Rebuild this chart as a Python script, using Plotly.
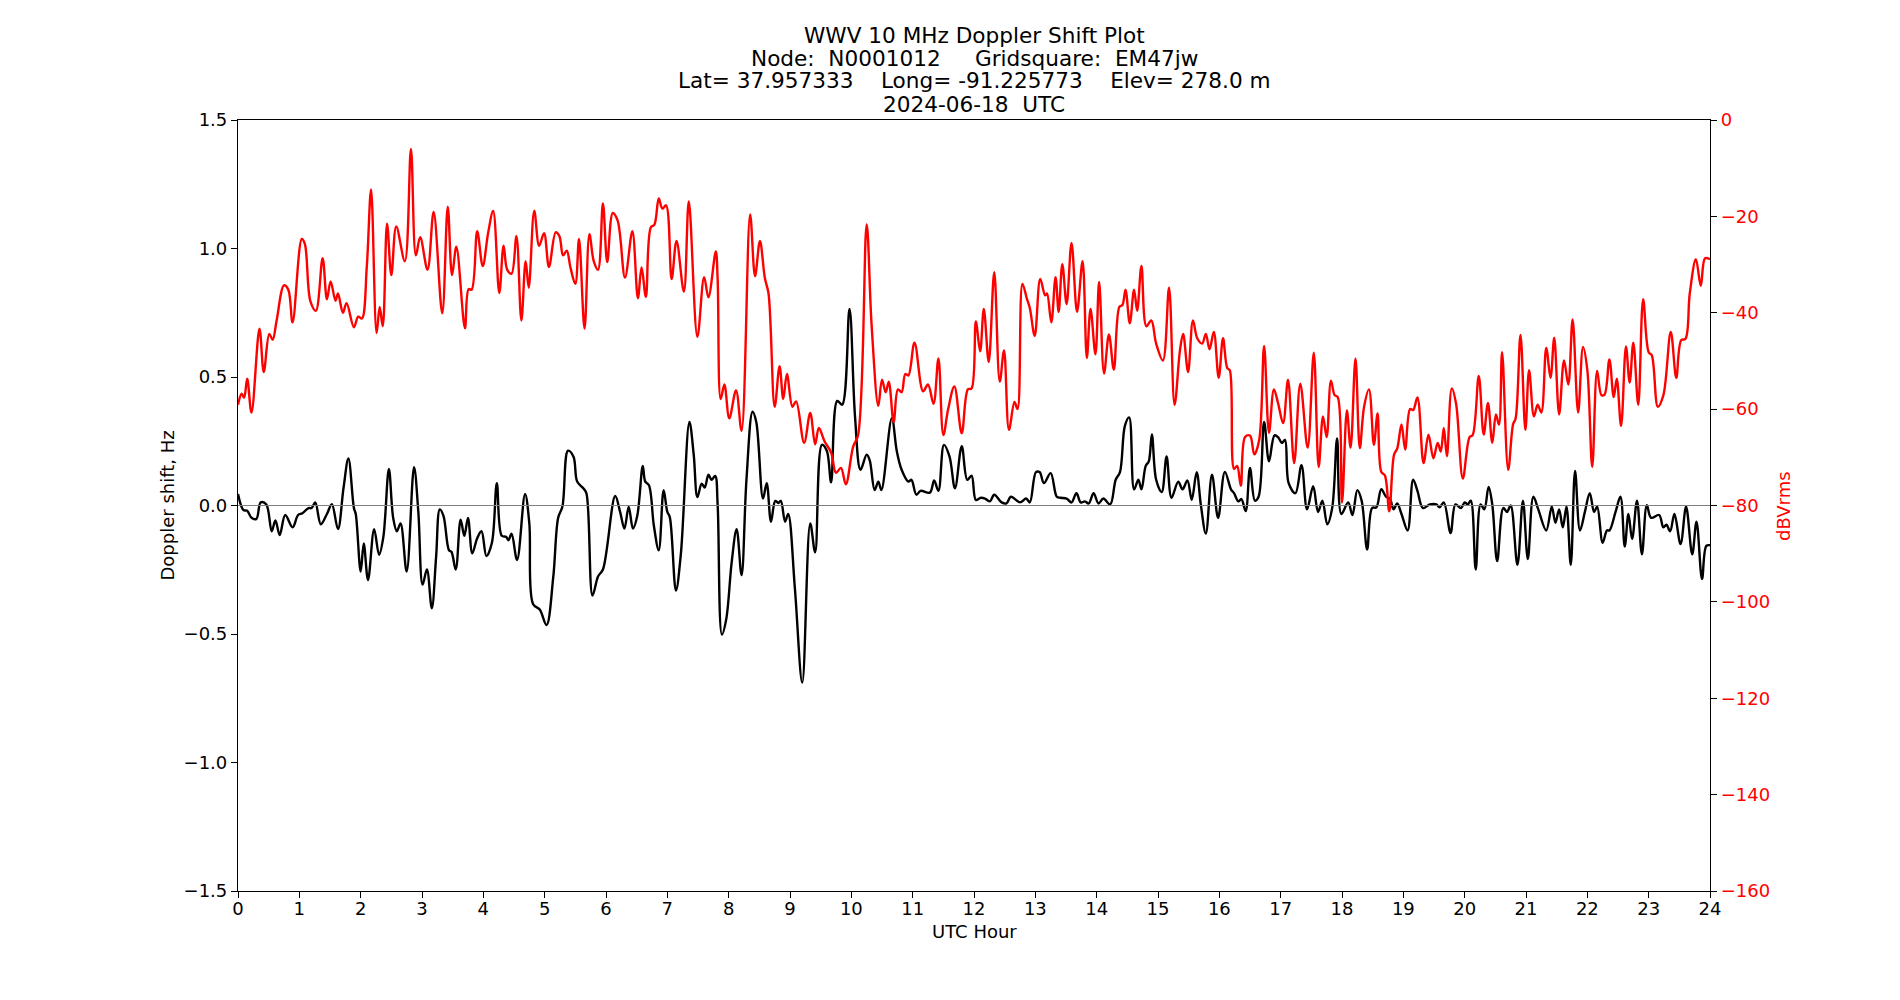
import plotly.graph_objects as go

# ---------------- data ----------------
power_hours = [0.0, 0.06, 0.10, 0.15, 0.22, 0.35, 0.42, 0.51, 0.565, 0.63, 0.75, 0.82, 0.89, 1.04, 1.09, 1.18, 1.27, 1.38, 1.45, 1.51,
               1.59, 1.63, 1.71, 1.77, 1.89, 1.96, 2.02, 2.10, 2.17, 2.26, 2.31, 2.36, 2.43, 2.50, 2.58, 2.72, 2.82, 2.90, 2.97, 3.09,
               3.19, 3.33, 3.42, 3.49, 3.56, 3.70, 3.76, 3.81, 3.90, 3.99, 4.08, 4.16, 4.26, 4.33, 4.39, 4.46, 4.54, 4.62, 4.69, 4.74,
               4.83, 4.91, 4.99, 5.07, 5.18, 5.24, 5.30, 5.36, 5.42, 5.50, 5.56, 5.65, 5.73, 5.80, 5.87, 5.95, 6.02, 6.11, 6.19, 6.31,
               6.43, 6.52, 6.58, 6.65, 6.73, 6.79, 6.86, 6.92, 6.98, 7.07, 7.15, 7.27, 7.35, 7.49, 7.60, 7.67, 7.79, 7.82, 7.87, 7.93,
               8.01, 8.12, 8.21, 8.35, 8.43, 8.51, 8.59, 8.65, 8.75, 8.83, 8.89, 8.95, 9.04, 9.10, 9.23, 9.33, 9.41, 9.47, 9.56, 9.67,
               9.75, 9.83, 9.91, 10.03, 10.11, 10.25, 10.33, 10.44, 10.50, 10.56, 10.61, 10.69, 10.76, 10.82, 10.88, 10.93, 11.03, 11.17, 11.25, 11.34,
               11.42, 11.50, 11.58, 11.68, 11.80, 11.90, 11.96, 12.03, 12.10, 12.16, 12.24, 12.33, 12.42, 12.49, 12.57, 12.66, 12.71, 12.79, 12.86, 12.91,
               12.99, 13.08, 13.16, 13.19, 13.26, 13.33, 13.38, 13.44, 13.51, 13.59, 13.68, 13.77, 13.84, 13.90, 13.98, 14.04, 14.12, 14.20, 14.28, 14.37,
               14.42, 14.47, 14.54, 14.61, 14.66, 14.73, 14.81, 14.89, 14.97, 15.08, 15.18, 15.27, 15.36, 15.41, 15.49, 15.57, 15.64, 15.72, 15.78, 15.84,
               15.91, 15.99, 16.06, 16.13, 16.17, 16.24, 16.29, 16.35, 16.42, 16.50, 16.57, 16.65, 16.73, 16.81, 16.89, 16.96, 17.04, 17.12, 17.22, 17.32,
               17.44, 17.54, 17.62, 17.69, 17.75, 17.82, 17.88, 17.93, 18.00, 18.08, 18.14, 18.22, 18.29, 18.36, 18.44, 18.52, 18.58, 18.64, 18.70, 18.77,
               18.85, 18.90, 18.97, 19.03, 19.11, 19.16, 19.23, 19.33, 19.41, 19.49, 19.56, 19.61, 19.66, 19.71, 19.79, 19.86, 19.97, 20.08, 20.13, 20.23,
               20.31, 20.38, 20.45, 20.51, 20.56, 20.61, 20.71, 20.79, 20.83, 20.91, 20.99, 21.05, 21.13, 21.19, 21.25, 21.33, 21.40, 21.46, 21.54, 21.62,
               21.69, 21.76, 21.85, 21.93, 22.00, 22.08, 22.16, 22.23, 22.28, 22.36, 22.43, 22.48, 22.55, 22.63, 22.69, 22.75, 22.83, 22.91, 23.00, 23.05,
               23.15, 23.24, 23.36, 23.45, 23.53, 23.60, 23.67, 23.77, 23.85, 23.92, 24.00]
power_dbv = [-59.1, -56.8, -57.6, -53.7, -60.7, -43.3, -52.3, -44.4, -45.6, -41.6, -34.3, -35.2, -42.0, -24.7, -25.7, -37.6, -39.6, -28.7, -37.2, -33.5,
             -37.5, -36.0, -40.0, -38.0, -43.0, -40.8, -41.2, -30.4, -14.4, -44.2, -38.8, -42.8, -21.5, -32.2, -22.1, -29.3, -6.0, -28.1, -24.3, -31.1,
             -19.1, -40.1, -18.0, -32.2, -26.3, -43.2, -35.1, -35.2, -23.1, -30.3, -23.3, -18.9, -35.9, -26.1, -31.1, -31.9, -24.1, -41.6, -29.3, -34.8,
             -18.8, -26.1, -23.5, -30.5, -23.3, -24.1, -28.1, -27.1, -30.6, -34.0, -24.7, -43.3, -23.7, -29.3, -31.1, -17.3, -29.5, -19.3, -20.9, -32.7,
             -23.1, -37.0, -30.6, -36.7, -22.3, -21.7, -16.3, -18.4, -17.7, -33.0, -25.1, -35.6, -16.9, -45.0, -32.6, -36.8, -27.3, -33.0, -57.9, -54.9,
             -61.9, -56.1, -64.5, -19.6, -32.4, -25.1, -32.8, -36.0, -59.5, -51.1, -57.9, -52.7, -59.5, -58.4, -67.0, -60.8, -67.3, -63.9, -66.6, -69.0,
             -73.2, -72.2, -75.6, -67.8, -65.4, -21.7, -42.4, -59.3, -53.9, -56.5, -54.3, -62.7, -55.9, -56.5, -52.7, -53.0, -46.2, -56.3, -54.9, -58.9,
             -49.5, -65.4, -59.9, -55.3, -65.0, -55.9, -55.7, -41.8, -48.0, -39.2, -50.2, -31.6, -54.3, -47.8, -64.3, -58.5, -60.0, -34.0, -37.0, -39.0,
             -44.8, -33.0, -36.4, -36.0, -42.0, -32.6, -39.8, -29.9, -38.2, -25.5, -39.8, -29.3, -49.4, -39.2, -48.6, -33.6, -52.6, -44.5, -51.8, -38.8,
             -38.4, -35.2, -42.2, -35.2, -39.6, -30.3, -42.8, -41.6, -46.4, -49.9, -34.8, -59.1, -47.6, -44.4, -52.3, -41.6, -45.3, -46.4, -44.4, -47.6,
             -44.0, -53.5, -45.3, -51.5, -51.9, -72.4, -71.8, -75.9, -65.8, -65.5, -69.4, -66.4, -46.9, -64.9, -55.9, -58.9, -62.9, -53.9, -71.2, -54.7,
             -68.0, -48.3, -72.0, -61.5, -65.8, -54.1, -57.1, -57.5, -79.4, -60.3, -68.0, -49.5, -68.1, -59.5, -55.9, -67.4, -60.9, -73.0, -73.8, -81.2,
             -69.4, -68.2, -63.2, -68.4, -60.0, -60.2, -57.6, -71.2, -65.3, -70.2, -67.0, -68.8, -63.9, -69.8, -55.7, -58.9, -74.4, -65.8, -65.4, -53.1,
             -65.3, -58.7, -67.0, -61.1, -63.2, -48.2, -72.6, -63.1, -62.0, -44.6, -64.3, -51.9, -61.5, -59.1, -60.7, -47.3, -53.5, -45.2, -61.1, -49.9,
             -54.9, -41.4, -60.7, -47.1, -51.9, -72.0, -52.1, -57.1, -57.0, -49.7, -57.5, -53.7, -63.5, -47.0, -54.5, -46.2, -59.1, -37.2, -48.2, -48.8,
             -59.5, -57.1, -44.0, -53.5, -45.7, -45.4, -36.0, -28.9, -34.4, -28.7, -28.9]

doppler_hours = [0.0, 0.09, 0.15, 0.22, 0.30, 0.37, 0.46, 0.55, 0.61, 0.68, 0.77, 0.89, 0.98, 1.05, 1.15, 1.20, 1.26, 1.35, 1.45, 1.53,
                 1.63, 1.72, 1.80, 1.89, 1.92, 2.00, 2.05, 2.12, 2.22, 2.30, 2.37, 2.46, 2.53, 2.59, 2.65, 2.75, 2.87, 2.94, 3.01, 3.08,
                 3.16, 3.23, 3.29, 3.35, 3.44, 3.48, 3.55, 3.63, 3.69, 3.75, 3.82, 3.90, 3.97, 4.05, 4.14, 4.22, 4.30, 4.37, 4.41, 4.46,
                 4.55, 4.68, 4.75, 4.81, 4.92, 5.03, 5.14, 5.22, 5.29, 5.38, 5.47, 5.53, 5.63, 5.68, 5.78, 5.87, 5.95, 6.15, 6.23, 6.30,
                 6.37, 6.44, 6.51, 6.60, 6.64, 6.70, 6.78, 6.86, 6.94, 7.00, 7.04, 7.14, 7.22, 7.36, 7.43, 7.49, 7.56, 7.61, 7.67, 7.72,
                 7.78, 7.82, 7.89, 7.96, 8.05, 8.13, 8.21, 8.29, 8.39, 8.45, 8.56, 8.62, 8.69, 8.76, 8.81, 8.85, 8.92, 8.97, 9.08, 9.20,
                 9.33, 9.41, 9.52, 9.60, 9.67, 9.77, 9.85, 9.97, 10.06, 10.15, 10.25, 10.30, 10.38, 10.44, 10.49, 10.66, 10.74, 10.82, 10.93, 10.98,
                 11.06, 11.13, 11.28, 11.35, 11.42, 11.51, 11.60, 11.69, 11.80, 11.89, 11.96, 12.03, 12.11, 12.18, 12.26, 12.33, 12.45, 12.53, 12.60, 12.75,
                 12.85, 12.91, 13.01, 13.07, 13.14, 13.25, 13.35, 13.41, 13.51, 13.59, 13.67, 13.74, 13.81, 13.87, 13.95, 14.03, 14.11, 14.22, 14.31, 14.38,
                 14.46, 14.53, 14.61, 14.68, 14.73, 14.80, 14.85, 14.90, 14.97, 15.06, 15.14, 15.22, 15.33, 15.40, 15.48, 15.55, 15.63, 15.70, 15.78, 15.88,
                 15.98, 16.09, 16.19, 16.24, 16.31, 16.36, 16.43, 16.50, 16.58, 16.64, 16.73, 16.81, 16.90, 16.96, 17.02, 17.07, 17.13, 17.24, 17.34, 17.43,
                 17.53, 17.61, 17.68, 17.76, 17.84, 17.92, 17.99, 18.10, 18.17, 18.25, 18.32, 18.41, 18.49, 18.56, 18.64, 18.72, 18.78, 18.84, 18.90, 18.97,
                 19.07, 19.16, 19.23, 19.32, 19.43, 19.54, 19.59, 19.66, 19.77, 19.85, 19.94, 20.00, 20.05, 20.10, 20.18, 20.26, 20.32, 20.39, 20.45, 20.53,
                 20.63, 20.69, 20.75, 20.86, 20.95, 21.03, 21.12, 21.20, 21.33, 21.42, 21.48, 21.54, 21.60, 21.66, 21.73, 21.80, 21.88, 21.96, 22.04, 22.11,
                 22.16, 22.25, 22.32, 22.36, 22.46, 22.54, 22.61, 22.67, 22.73, 22.81, 22.89, 22.97, 23.04, 23.17, 23.24, 23.29, 23.35, 23.42, 23.52, 23.61,
                 23.71, 23.78, 23.87, 23.94, 24.00]
doppler_hz = [0.045, -0.018, -0.02, -0.048, -0.052, 0.012, 0.005, -0.10, -0.058, -0.115, -0.037, -0.085, -0.037, -0.03, -0.01, -0.01, 0.012, -0.073, -0.033, 0.005,
              -0.092, 0.067, 0.183, -0.01, -0.033, -0.257, -0.148, -0.29, -0.092, -0.192, -0.122, 0.142, -0.048, -0.10, -0.07, -0.257, 0.149, -0.025, -0.308, -0.249,
              -0.40, -0.20, -0.015, -0.04, -0.174, -0.18, -0.249, -0.055, -0.118, -0.048, -0.186, -0.127, -0.10, -0.197, -0.145, 0.087, -0.118, -0.122, -0.135, -0.11,
              -0.212, 0.045, -0.07, -0.383, -0.405, -0.465, -0.279, -0.048, -0.003, 0.213, 0.19, 0.093, 0.067, 0.048, -0.35, -0.276, -0.249, 0.037, -0.025, -0.09,
              -0.006, -0.09, -0.04, 0.154, 0.093, 0.079, -0.078, -0.174, 0.06, -0.025, -0.045, -0.331, -0.19, 0.325, 0.198, 0.033, 0.085, 0.07, 0.12, 0.10,
              0.115, 0.004, -0.502, -0.443, -0.219, -0.092, -0.271, 0.10, 0.365, 0.325, 0.027, 0.087, -0.063, 0.018, 0.01, 0.018, -0.063, -0.033, -0.324, -0.689,
              -0.07, -0.182, 0.236, 0.213, 0.09, 0.407, 0.392, 0.765, 0.347, 0.139, 0.198, 0.176, 0.06, 0.093, 0.06, 0.34, 0.213, 0.139, 0.093, 0.10,
              0.042, 0.057, 0.05, 0.097, 0.057, 0.236, 0.191, 0.067, 0.231, 0.10, 0.116, 0.022, 0.03, 0.027, 0.016, 0.042, 0.012, 0.008, 0.034, 0.012,
              0.027, 0.012, 0.13, 0.13, 0.087, 0.126, 0.034, 0.03, 0.027, 0.012, 0.048, 0.012, 0.016, 0.008, 0.048, 0.008, 0.027, 0.004, 0.10, 0.13,
              0.31, 0.343, 0.063, 0.10, 0.063, 0.154, 0.172, 0.276, 0.10, 0.052, 0.191, 0.03, 0.093, 0.063, 0.097, 0.022, 0.13, 0.0, -0.109, 0.12,
              -0.048, 0.131, 0.063, 0.048, 0.016, 0.025, -0.022, 0.146, 0.019, 0.034, 0.325, 0.172, 0.273, 0.265, 0.243, 0.255, 0.087, 0.048, 0.157, -0.015,
              0.075, -0.025, 0.019, -0.073, -0.01, 0.261, -0.033, 0.012, -0.037, 0.06, 0.019, -0.171, -0.01, -0.007, 0.063, 0.034, 0.027, -0.015, 0.008, -0.033,
              -0.097, 0.10, 0.057, -0.01, 0.004, 0.004, -0.007, 0.012, -0.107, 0.004, -0.01, 0.012, 0.004, 0.019, -0.249, 0.004, -0.015, 0.072, 0.004, -0.216,
              -0.01, -0.025, 0.0, -0.231, 0.019, -0.208, 0.034, -0.015, -0.097, -0.005, -0.067, -0.015, -0.085, -0.005, -0.231, 0.134, -0.097, -0.025, 0.048, -0.025,
              -0.005, -0.145, -0.097, -0.097, -0.025, 0.034, -0.16, -0.033, -0.13, 0.019, -0.19, 0.001, -0.048, -0.037, -0.085, -0.075, -0.10, -0.033, -0.15, -0.005,
              -0.19, -0.063, -0.286, -0.157, -0.155]

hour_ticks = list(range(0, 25))
hz_ticks = [-1.5, -1.0, -0.5, 0.0, 0.5, 1.0, 1.5]
db_ticks = [0, -20, -40, -60, -80, -100, -120, -140, -160]

title_lines = ["WWV 10 MHz Doppler Shift Plot",
               "Node:  N0001012     Gridsquare:  EM47jw",
               "Lat= 37.957333    Long= -91.225773    Elev= 278.0 m",
               "2024-06-18  UTC"]

# ---------------- figure ----------------
FONT = "DejaVu Sans"
L, R, T, B = 238, 1710.5, 120, 891
W, H = 1900, 1000
SMALL = 18
BIG = 21.6

fig = go.Figure()

fig.add_trace(go.Scatter(x=doppler_hours, y=doppler_hz, mode="lines",
                         line=dict(color="black", width=2.4, shape="spline", smoothing=1.0),
                         yaxis="y", showlegend=False, hoverinfo="skip"))
fig.add_trace(go.Scatter(x=[0, 24], y=[0, 0], mode="lines",
                         line=dict(color="#808080", width=1.2),
                         yaxis="y", showlegend=False, hoverinfo="skip"))
fig.add_trace(go.Scatter(x=power_hours, y=power_dbv, mode="lines",
                         line=dict(color="red", width=2.4, shape="spline", smoothing=1.0),
                         yaxis="y2", showlegend=False, hoverinfo="skip"))

tickfont = dict(family=FONT, size=SMALL, color="black")

fig.update_layout(
    width=W, height=H,
    margin=dict(l=L, r=W - R, t=T, b=H - B, pad=0),
    paper_bgcolor="white", plot_bgcolor="white",
    font=dict(family=FONT, color="black"),
    xaxis=dict(range=[0, 24], tickvals=hour_ticks, ticks="outside", ticklen=6, tickwidth=1.2,
               tickcolor="black", showline=True, linecolor="black", linewidth=1.2, mirror=True,
               showgrid=False, zeroline=False, tickfont=tickfont, ticklabelstandoff=-5),
    yaxis=dict(range=[-1.5, 1.5], tickvals=hz_ticks, tickformat=".1f", ticks="outside", ticklen=6,
               tickwidth=1.2, tickcolor="black", showline=True, linecolor="black", linewidth=1.2,
               showgrid=False, zeroline=False, tickfont=tickfont),
    yaxis2=dict(range=[-160, 0], tickvals=db_ticks, overlaying="y", side="right", ticks="outside",
                ticklen=6, tickwidth=1.2, tickcolor="black", showline=True, linecolor="black",
                linewidth=1.2, showgrid=False, zeroline=False,
                tickfont=dict(family=FONT, size=SMALL, color="red")),
)

def px_to_paper_y(y):
    return (B - y) / (B - T)

def px_to_paper_x(x):
    return (x - L) / (R - L)

annotations = []
title_y = [35.5, 58, 81, 104]
for txt, yy in zip(title_lines, title_y):
    annotations.append(dict(text=txt, xref="paper", yref="paper", x=0.5, y=px_to_paper_y(yy),
                            xanchor="center", yanchor="middle", showarrow=False,
                            font=dict(family=FONT, size=BIG, color="black")))
annotations.append(dict(text="UTC Hour", xref="paper", yref="paper", x=0.5, y=px_to_paper_y(931),
                        xanchor="center", yanchor="middle", showarrow=False,
                        font=dict(family=FONT, size=SMALL, color="black")))
annotations.append(dict(text="Doppler shift, Hz", xref="paper", yref="paper", x=px_to_paper_x(167),
                        y=0.5, xanchor="center", yanchor="middle", textangle=-90, showarrow=False,
                        font=dict(family=FONT, size=SMALL, color="black")))
annotations.append(dict(text="dBVrms", xref="paper", yref="paper", x=px_to_paper_x(1784),
                        y=0.5, xanchor="center", yanchor="middle", textangle=-90, showarrow=False,
                        font=dict(family=FONT, size=SMALL, color="red")))
fig.update_layout(annotations=annotations)

fig.write_html("out.html")
